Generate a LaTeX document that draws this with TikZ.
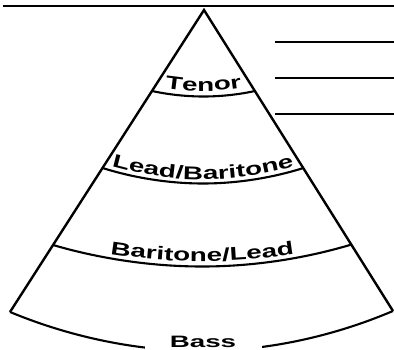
\documentclass[tikz,border=0pt]{standalone}
\usepackage{fontspec}
\newfontfamily\lblfam[FakeStretch=1.5]{Liberation Sans Bold}
\newfontfamily\bassfam[FakeStretch=1.68]{Liberation Sans Bold}
\newcommand\lblfont{\lblfam\fontsize{18.5}{20}\selectfont}
\newcommand\bassfont{\bassfam\fontsize{16.5}{18}\selectfont}
\usetikzlibrary{decorations.text}
\begin{document}
\begin{tikzpicture}[x=1pt,y=-1pt,
  edge/.style={line width=2.4pt, line join=miter},
  band/.style={line width=2.1pt},
  rule/.style={line width=2.4pt},
  toprule/.style={line width=2.8pt},
  lbltext/.style={decorate, decoration={text along path, text align=center, text={#1}}}
]
\useasboundingbox (0,0) rectangle (394,350);

% top rule
\coordinate (topL) at (3,6);
\coordinate (topR) at (394,6);
\draw[toprule] (topL) -- (topR);

% right-hand short rules
\coordinate (r1a) at (275,42);  \coordinate (r1b) at (394,42);
\coordinate (r2a) at (275,78);  \coordinate (r2b) at (394,78);
\coordinate (r3a) at (275,114); \coordinate (r3b) at (394,114);
\draw[rule] (r1a) -- (r1b);
\draw[rule] (r2a) -- (r2b);
\draw[rule] (r3a) -- (r3b);

% sector
\coordinate (apex) at (204,10);
\coordinate (bl) at (10,312);
\coordinate (br) at (393,311);
\draw[edge] (bl) -- (apex) -- (br);

% band boundaries
\coordinate (tL) at (152,91);   \coordinate (tM) at (203.5,96.5); \coordinate (tR) at (255,91);
\coordinate (lL) at (102.5,168); \coordinate (lM) at (203,183.5); \coordinate (lR) at (303.5,168);
\coordinate (bL) at (53,245);   \coordinate (bM) at (202.3,266.5); \coordinate (bR) at (351.6,244.5);
\coordinate (sM) at (201.5,351);
\draw[band] (tL) parabola bend (tM) (tR);
\draw[band] (lL) parabola bend (lM) (lR);
\draw[band] (bL) parabola bend (bM) (bR);
\draw[band] (bl) parabola bend (sM) (br);

% gap in the bottom arc for the label
\fill[white] (145,333) rectangle (262,354);

% curved labels
\path[lbltext={|\lblfont|Tenor}] (133.5,80.8) parabola bend (203.5,91) (273.5,80.8);
\path[lbltext={|\lblfont|Lead/Baritone}] (73,153.1) parabola bend (203,179.5) (333,153.1);
\path[lbltext={|\lblfont|Baritone/Lead}] (72.3,246.6) parabola bend (202.3,261.5) (332.3,246.6);

% bottom label
\node[inner sep=0pt, anchor=base, font=\bassfont] (bass) at (203,347.5) {Bass};
\end{tikzpicture}
\end{document}
